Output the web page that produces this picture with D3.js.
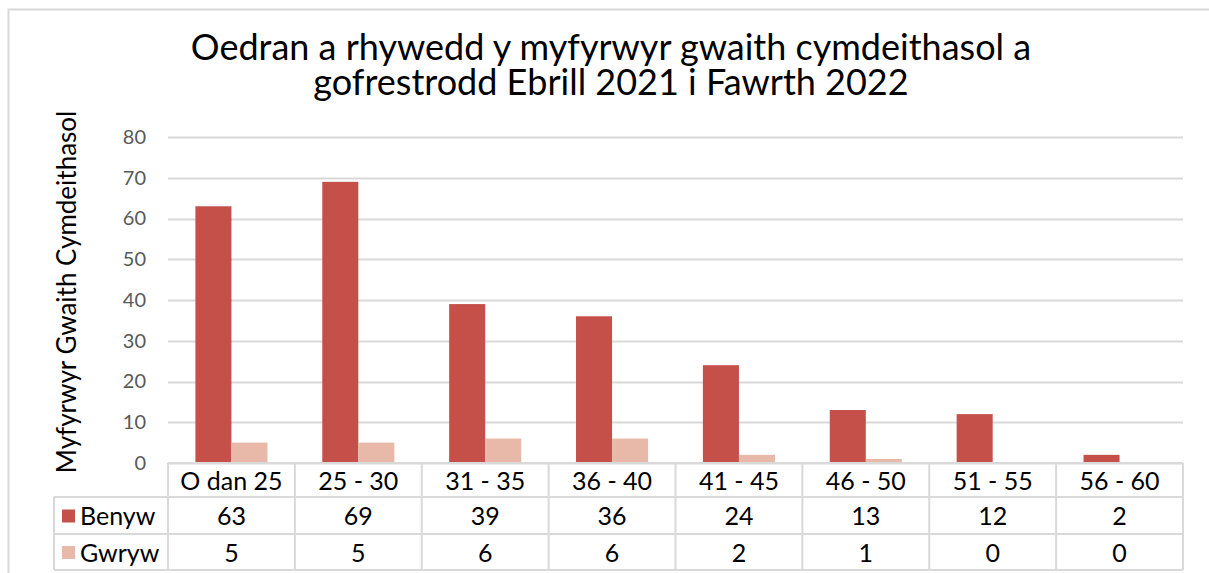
<!DOCTYPE html>
<html>
<head>
<meta charset="utf-8">
<script src="https://cdn.jsdelivr.net/npm/d3@7"></script>
<style>
  body { margin: 0; background: #fff; }
  text { font-family: Lato, "Open Sans", sans-serif; }
</style>
</head>
<body>
<svg id="chart" width="1209" height="573"></svg>
<script>
// data
const categories = ["O dan 25", "25 - 30", "31 - 35", "36 - 40", "41 - 45", "46 - 50", "51 - 55", "56 - 60"];
const seriesNames = ["Benyw", "Gwryw"];
const benyw = [63, 69, 39, 36, 24, 13, 12, 2];
const gwryw = [5, 5, 6, 6, 2, 1, 0, 0];
const yTicks = [0, 10, 20, 30, 40, 50, 60, 70, 80];
const titleLines = ["Oedran a rhywedd y myfyrwyr gwaith cymdeithasol a", "gofrestrodd Ebrill 2021 i Fawrth 2022"];
const yTitle = "Myfyrwyr Gwaith Cymdeithasol";

const colors = { Benyw: "#c5504a", Gwryw: "#e8b8a8" };
const gridColor = "#d9d9d9";

const svg = d3.select("#chart");

// outer chart border
svg.append("rect")
  .attr("x", 8.5).attr("y", 9.5)
  .attr("width", 1300).attr("height", 700)
  .attr("fill", "#fff")
  .attr("stroke", gridColor)
  .attr("stroke-width", 2);

// title
svg.append("g").selectAll("text")
  .data(titleLines)
  .join("text")
  .attr("x", 611)
  .attr("y", (d, i) => 60 + i * 35)
  .attr("text-anchor", "middle")
  .attr("font-size", 36)
  .attr("fill", "#000")
  .text(d => d);

const left = 168, right = 1183;
const x = d3.scaleBand().domain(categories).range([left, right]);
const x1 = d3.scaleBand().domain(seriesNames).range([0, x.bandwidth()]).paddingOuter(0.76);
const y = d3.scaleLinear().domain([0, 80]).range([463, 137]);

// gridlines
svg.append("g").selectAll("line")
  .data(yTicks)
  .join("line")
  .attr("x1", left).attr("x2", right)
  .attr("y1", d => Math.round(y(d)) + 0.5).attr("y2", d => Math.round(y(d)) + 0.5)
  .attr("stroke", gridColor)
  .attr("stroke-width", 2);

// y axis
const yAxis = svg.append("g")
  .attr("transform", `translate(${left},0)`)
  .call(d3.axisLeft(y).tickValues(yTicks).tickSize(0).tickPadding(22));
yAxis.select(".domain").remove();
yAxis.selectAll("text")
  .attr("font-size", 20)
  .attr("font-family", "Lato, sans-serif")
  .attr("fill", "#595959");

// y title
svg.append("text")
  .attr("transform", "translate(76,292) rotate(-90)")
  .attr("text-anchor", "middle")
  .attr("font-size", 26)
  .attr("fill", "#000")
  .text(yTitle);

// bars
const rows = seriesNames.map((s, si) => ({
  name: s,
  values: si === 0 ? benyw : gwryw
}));

rows.forEach(r => {
  svg.append("g").selectAll("rect")
    .data(r.values)
    .join("rect")
    .attr("x", (d, i) => x(categories[i]) + x1(r.name))
    .attr("y", d => y(d))
    .attr("width", x1.bandwidth())
    .attr("height", d => y(0) - y(d))
    .attr("fill", colors[r.name]);
});

// data table
const rowY = [463, 497, 534, 570];
const tableLeft = 54;
const table = svg.append("g")
  .attr("stroke", gridColor)
  .attr("stroke-width", 2);

// horizontal lines
rowY.forEach((ry, i) => {
  table.append("line")
    .attr("x1", i === 0 ? left : tableLeft).attr("x2", right)
    .attr("y1", ry).attr("y2", ry);
});
// vertical lines
x.domain().concat([null]).forEach(c => {
  const xx = c === null ? right : x(c);
  table.append("line")
    .attr("x1", xx).attr("x2", xx)
    .attr("y1", rowY[0]).attr("y2", rowY[3]);
});
table.append("line")
  .attr("x1", tableLeft).attr("x2", tableLeft)
  .attr("y1", rowY[1]).attr("y2", rowY[3]);

// header labels
svg.append("g").selectAll("text")
  .data(categories)
  .join("text")
  .attr("x", d => x(d) + x.bandwidth() / 2)
  .attr("y", (rowY[0] + rowY[1]) / 2 + 1)
  .attr("dy", "0.35em")
  .attr("text-anchor", "middle")
  .attr("font-size", 25)
  .attr("fill", "#000")
  .text(d => d);

// value rows
rows.forEach((r, ri) => {
  const cy = (rowY[ri + 1] + rowY[ri + 2]) / 2 + 1;
  const g = svg.append("g");
  g.selectAll("text")
    .data(r.values)
    .join("text")
    .attr("x", (d, i) => x(categories[i]) + x.bandwidth() / 2)
    .attr("y", cy)
    .attr("dy", "0.35em")
    .attr("text-anchor", "middle")
    .attr("font-size", 25)
    .attr("fill", "#000")
    .text(d => d);
  g.append("rect")
    .attr("x", 62).attr("y", cy - 7)
    .attr("width", 13).attr("height", 13)
    .attr("fill", colors[r.name]);
  g.append("text")
    .attr("x", 80).attr("y", cy)
    .attr("dy", "0.35em")
    .attr("font-size", 25)
    .attr("fill", "#000")
    .text(r.name);
});
</script>
</body>
</html>
